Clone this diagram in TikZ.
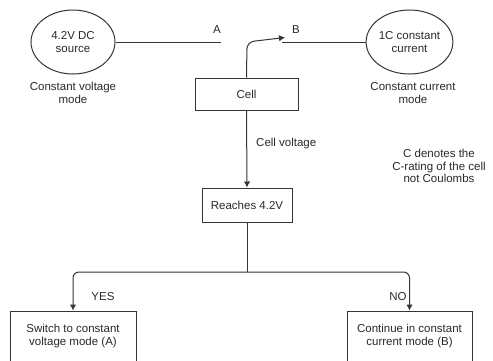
\documentclass[tikz,border=0pt]{standalone}
\usepackage{fontspec}
\setmainfont{Liberation Sans}
\usetikzlibrary{shapes.geometric,arrows.meta}
\definecolor{ln}{HTML}{353535}
\definecolor{tx}{HTML}{2A2A2A}
\tikzset{
  every node/.style={text=tx,font=\fontsize{11.5}{12.8}\selectfont,align=center,inner sep=0pt},
  oval/.style={draw=ln,line width=1pt,ellipse,minimum width=84pt,minimum height=64pt},
  box/.style={draw=ln,line width=1pt,rectangle},
  conn/.style={draw=ln,line width=1pt},
  arr/.style={conn,-{Latex[length=6pt,width=6.5pt]}},
}
\begin{document}
\begin{tikzpicture}[x=1pt,y=-1pt]
\useasboundingbox (0,0) rectangle (493,360);
\fill[white] (0,0) rectangle (493,360);
% top
\node[oval] (src) at (73,42) {4.2V DC\\source};
\node (srclab) at (73,93) {Constant voltage\\mode};
\node[oval] (cc) at (409.5,42) {1C constant\\current};
\node (cclab) at (413,93) {Constant current\\mode};
\coordinate (aend) at (221,42);
\coordinate (bend) at (282,42);
\coordinate (btip) at (285,37.5);
\node (la) at (217,30) {A};
\node (lb) at (296,30) {B};
\draw[conn] (src.east) -- (aend);
\draw[conn] (cc.west) -- (bend);
% cell
\node[box,minimum width=103pt,minimum height=32pt] (cell) at (246.5,94) {Cell};
\draw[arr,rounded corners=7pt] (cell.north) -- (247,42) -- (btip);
\node[box,minimum width=90pt,minimum height=34pt] (reach) at (247,205) {Reaches 4.2V};
\draw[arr] (cell.south) -- (reach.north);
\node[anchor=west] (cv) at (256,144) {Cell voltage};
\node (note) at (439,166) {C denotes the\\C-rating of the cell\\not Coulombs};
% bottom
\node[box,minimum width=126pt,minimum height=50pt] (yes) at (73,336) {Switch to constant\\voltage mode (A)};
\node[box,minimum width=125pt,minimum height=50pt] (no) at (409.5,336) {Continue in constant\\current mode (B)};
\coordinate (split) at (247,272);
\draw[conn] (reach.south) -- (split);
\draw[arr,rounded corners=6pt] (split) -- (73,272) -- (yes.north);
\draw[arr,rounded corners=6pt] (split) -- (409.5,272) -- (no.north);
\node (lyes) at (103,297) {YES};
\node (lno) at (398,297) {NO};
\end{tikzpicture}
\end{document}
